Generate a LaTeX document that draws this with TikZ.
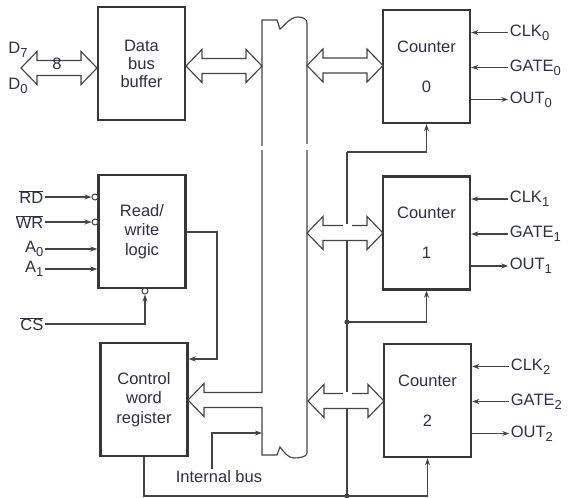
\documentclass[tikz,border=0pt]{standalone}
\usepackage{fontspec}
\setmainfont{Liberation Sans}
\usetikzlibrary{arrows.meta,calc}
\definecolor{txt}{RGB}{45,47,68}
\definecolor{ln}{RGB}{68,68,68}
\definecolor{bx}{RGB}{55,55,55}
\newcommand\lowidx[1]{\raisebox{-0.45ex}{\fontsize{13}{13}\selectfont #1}}
\newcommand\fatarrow[3]{%
  \draw[fat] (#1,#3) -- ++(16,-16.5) -- ++(0,9) -- (#2-16,#3-7.5) -- ++(0,-9) -- (#2,#3)
   -- ++(-16,16.5) -- ++(0,-9) -- (#1+16,#3+7.5) -- ++(0,9) -- cycle;}
\begin{document}
\begin{tikzpicture}[x=1pt,y=-1pt,
  box/.style={draw=bx, line width=2.4pt, minimum width=87pt, minimum height=113pt,
    inner sep=0pt, text=txt, align=center, font=\fontsize{16.5}{18}\selectfont},
  lbl/.style={text=txt, inner sep=1.5pt, font=\fontsize{16.5}{18}\selectfont},
  sig/.style={draw=ln, line width=1.05pt},
  tip/.style={-{Stealth[length=7pt,width=5pt]}},
  fat/.style={draw=ln, line width=1.15pt, fill=white, line join=miter},
  bub/.style={circle, draw=ln, line width=1pt, fill=white, minimum size=6pt, inner sep=0pt}]
\useasboundingbox (0,0) rectangle (568,498);

% boxes
\node[box] (dbb) at (141.5,63.5) {Data\\bus\\buffer};
\node[box, font=\fontsize{16.5}{19.5}\selectfont] (rwl) at (142,231.5) {Read/\\write\\logic};
\node[box, font=\fontsize{16.5}{19.5}\selectfont] (cwr) at (144,399.5) {Control\\word\\register};
\node[box] (c0) at (426.5,66.5) {Counter\\[22pt]0};
\node[box] (c1) at (426.5,233) {Counter\\[22pt]1};
\node[box] (c2) at (427.5,400.5) {Counter\\[22pt]2};

% internal bus outline with control word register arrow
\draw[fat] (262,407.5) -- (262,455) -- (277,455) -- (280,447)
  .. controls (284,452) and (288,458) .. (294,458)
  .. controls (299,458) and (307,457) .. (307,453)
  -- (307,23) .. controls (307,19) and (303,17) .. (298,17)
  .. controls (290,17) and (284,26) .. (280,29)
  -- (277,20) -- (262,20) -- (262,392.5) -- (204,392.5) -- (204,383.5)
  -- (188,400) -- (204,416.5) -- (204,407.5) -- cycle;
\fill[white] (258,145.5) rectangle (266,150);
\fill[white] (303,143.5) rectangle (311,150);

% counter control lines
\coordinate (v0) at (347,152);
\coordinate (j1) at (347,322);
\coordinate (j2) at (347,496);
\coordinate (cwb) at (cwr.south |- j2);
\draw[sig] (v0) -- (j2);
\draw[sig,tip] (v0) -| (c0.south);
\draw[sig,tip] (j1) -| (c1.south);
\draw[sig,tip] (cwr.south) -- (cwb) -| (c2.south);
\fill[ln] (j1) circle (2.6pt);
\fill[ln] (j2) circle (2.6pt);

% fat arrows
\fatarrow{21}{97}{68}
\fatarrow{186}{262}{66}
\fatarrow{307}{383}{65.5}
\fatarrow{307}{383}{233}
\fatarrow{308}{384}{401}
\draw[white, line width=2.4pt] (342.5,225.5) -- (351.5,225.5);
\draw[white, line width=2.4pt] (342.5,393.5) -- (351.5,393.5);

% data bus labels
\node[lbl] (d7) at (18,50) {D\lowidx{7}};
\node[lbl] (d0) at (18,86) {D\lowidx{0}};
\node[lbl, inner sep=0pt] (eight) at (57,64) {8};

% read/write inputs
\node[lbl, anchor=east] (rd) at (45,197) {$\overline{\mbox{RD}}$};
\node[lbl, anchor=east] (wr) at (45,222) {$\overline{\mbox{WR}}$};
\node[lbl, anchor=east] (a0) at (45,249) {A\lowidx{0}};
\node[lbl, anchor=east] (a1) at (45,269) {A\lowidx{1}};
\node[lbl, anchor=east] (cs) at (45,324) {$\overline{\mbox{CS}}$};
\node[bub] (brd) at (95,197) {};
\node[bub] (bwr) at (95,222) {};
\node[bub] (bcs) at (145,291) {};
\draw[sig,tip] (rd.east) -- (brd.west);
\draw[sig,tip] (wr.east) -- (bwr.west);
\draw[sig,tip] (a0.east) -- (a0.east -| rwl.west);
\draw[sig,tip] (a1.east) -- (a1.east -| rwl.west);
\draw[sig,tip] (cs.east) -| (bcs.south);

% read/write to control word register
\coordinate (rw1) at (217,232);
\coordinate (rw2) at (217,359);
\draw[sig,tip] (rwl.east |- rw1) -- (rw1) -- (rw2) -- (rw2 -| cwr.east);

% internal bus label
\node[lbl] (ib) at (219,477) {Internal bus};
\coordinate (ib1) at (212,433);
\coordinate (ibe) at (262,433);
\draw[sig,tip] (ib.north -| ib1) -- (ib1) -- (ibe);

% counter signals
\foreach \c/\i in {c0/0,c1/1,c2/2}{
  \node[lbl, anchor=west] (clk\i) at ($(\c.east)+(37,-34)$) {CLK\lowidx{\i}};
  \node[lbl, anchor=west] (gate\i) at ($(\c.east)+(37,1)$) {GATE\lowidx{\i}};
  \node[lbl, anchor=west] (out\i) at ($(\c.east)+(37,33)$) {OUT\lowidx{\i}};
  \draw[sig,tip] (clk\i.west) -- (clk\i.west -| \c.east);
  \draw[sig,tip] (gate\i.west) -- (gate\i.west -| \c.east);
  \draw[sig,tip] (out\i.west -| \c.east) -- (out\i.west);
}
\end{tikzpicture}
\end{document}
